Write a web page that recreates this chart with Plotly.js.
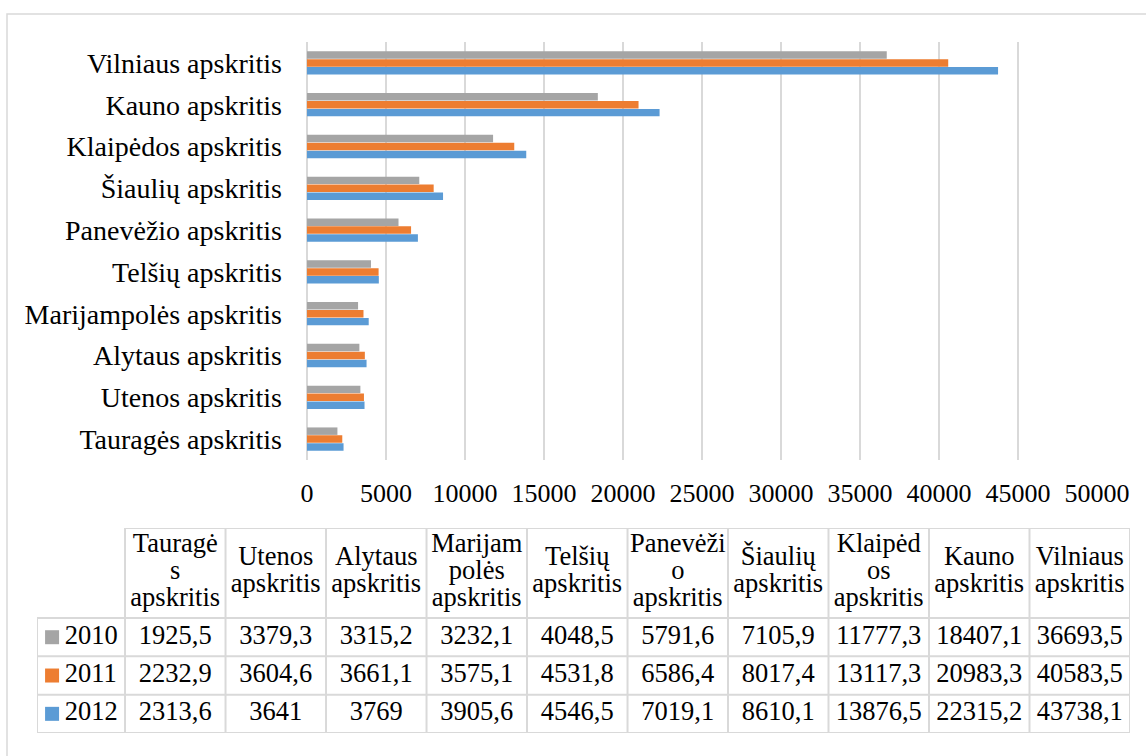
<!DOCTYPE html>
<html>
<head>
<meta charset="utf-8">
<script src="https://cdn.plot.ly/plotly-3.0.1.min.js"></script>
<style>
  html, body { margin: 0; padding: 0; background: #ffffff; }
  #chart { width: 1146px; height: 756px; }
</style>
</head>
<body>
<div id="chart"></div>
<script>
// Regions, in data-table order (bottom bar group first)
const regions = [
  "Tauragės apskritis", "Utenos apskritis", "Alytaus apskritis",
  "Marijampolės apskritis", "Telšių apskritis", "Panevėžio apskritis",
  "Šiaulių apskritis", "Klaipėdos apskritis", "Kauno apskritis",
  "Vilniaus apskritis"
];

// Column headings of the data table, as they wrap in their cells
const headerLines = [
  ["Tauragė", "s", "apskritis"],
  ["Utenos", "apskritis"],
  ["Alytaus", "apskritis"],
  ["Marijam", "polės", "apskritis"],
  ["Telšių", "apskritis"],
  ["Panevėži", "o", "apskritis"],
  ["Šiaulių", "apskritis"],
  ["Klaipėd", "os", "apskritis"],
  ["Kauno", "apskritis"],
  ["Vilniaus", "apskritis"]
];

const years = ["2010", "2011", "2012"];
const values2010 = [1925.5, 3379.3, 3315.2, 3232.1, 4048.5, 5791.6, 7105.9, 11777.3, 18407.1, 36693.5];
const values2011 = [2232.9, 3604.6, 3661.1, 3575.1, 4531.8, 6586.4, 8017.4, 13117.3, 20983.3, 40583.5];
const values2012 = [2313.6, 3641, 3769, 3905.6, 4546.5, 7019.1, 8610.1, 13876.5, 22315.2, 43738.1];
const xTickValues = [0, 5000, 10000, 15000, 20000, 25000, 30000, 35000, 40000, 45000, 50000];

const colors = { "2010": "#a5a5a5", "2011": "#ed7d31", "2012": "#5b9bd5" };
const seriesByYear = { "2010": values2010, "2011": values2011, "2012": values2012 };

const FONT = "Liberation Serif, Times New Roman, serif";
const FONT_SIZE = 26;
const CATEGORY_FONT_SIZE = 28;
const TABLE_FONT_SIZE = 26.5;
const GRID = "#d9d9d9";
const W = 1146, H = 756;

// Lithuanian number style: decimal comma
const fmt = v => String(v).replace(".", ",");

const traces = [];

// Bars: 2012 first so that 2010 sits on top inside each group
["2012", "2011", "2010"].forEach(yr => {
  traces.push({
    type: "bar",
    orientation: "h",
    name: yr,
    y: regions,
    x: seriesByYear[yr],
    marker: { color: colors[yr], line: { width: 0 } },
    xaxis: "x",
    yaxis: "y",
    hovertemplate: "%{y}<br>" + yr + ": %{x}<extra></extra>"
  });
});

// ---- Data table under the chart (drawn on its own hidden axis pair) ----
// x2 units: one unit per data column; the key column is narrower.
const keyColWidth = 0.876;
// y2 units: one unit per data row; header is taller.
const headerHeight = 2.35;
const headerCenter = 1.2;
const headerLineStep = 0.705;

// Header text, one point per wrapped line
const hx = [], hy = [], htext = [];
headerLines.forEach((lines, j) => {
  const n = lines.length;
  lines.forEach((line, k) => {
    hx.push(j + 0.5);
    hy.push(headerCenter + ((n - 1) / 2 - k) * headerLineStep);
    htext.push(line);
  });
});
traces.push({
  type: "scatter", mode: "text", x: hx, y: hy, text: htext,
  textposition: "middle center",
  textfont: { family: FONT, size: TABLE_FONT_SIZE, color: "#000" },
  xaxis: "x2", yaxis: "y2", hoverinfo: "skip", cliponaxis: false, showlegend: false
});

// Value cells
const vx = [], vy = [], vtext = [];
years.forEach((yr, r) => {
  seriesByYear[yr].forEach((v, j) => {
    vx.push(j + 0.5);
    vy.push(-(r + 0.5));
    vtext.push(fmt(v));
  });
});
traces.push({
  type: "scatter", mode: "text", x: vx, y: vy, text: vtext,
  textposition: "middle center",
  textfont: { family: FONT, size: TABLE_FONT_SIZE, color: "#000" },
  xaxis: "x2", yaxis: "y2", hoverinfo: "skip", cliponaxis: false, showlegend: false
});

// Legend keys and year labels in the first column
traces.push({
  type: "scatter", mode: "markers",
  x: years.map(() => -0.726), y: years.map((_, r) => -(r + 0.5)),
  marker: { symbol: "square", size: 14, color: years.map(y => colors[y]), line: { width: 0 } },
  xaxis: "x2", yaxis: "y2", hoverinfo: "skip", cliponaxis: false, showlegend: false
});
traces.push({
  type: "scatter", mode: "text",
  x: years.map(() => -0.60), y: years.map((_, r) => -(r + 0.5)),
  text: years, textposition: "middle right",
  textfont: { family: FONT, size: TABLE_FONT_SIZE, color: "#000" },
  xaxis: "x2", yaxis: "y2", hoverinfo: "skip", cliponaxis: false, showlegend: false
});

// Table borders
const shapes = [];
const line = { color: GRID, width: 2 };
// top edge of the heading row (no border over the key column)
shapes.push({ type: "line", xref: "x2", yref: "y2", x0: 0, x1: regions.length, y0: headerHeight, y1: headerHeight, line });
// horizontal rules under the heading and under each data row
for (let r = 0; r <= years.length; r++) {
  shapes.push({ type: "line", xref: "x2", yref: "y2", x0: -keyColWidth, x1: regions.length, y0: -r, y1: -r, line });
}
// left edge of the key column
shapes.push({ type: "line", xref: "x2", yref: "y2", x0: -keyColWidth, x1: -keyColWidth, y0: 0, y1: -years.length, line });
// column separators
for (let j = 0; j <= regions.length; j++) {
  shapes.push({ type: "line", xref: "x2", yref: "y2", x0: j, x1: j, y0: headerHeight, y1: -years.length, line });
}
// chart frame
shapes.push({
  type: "rect", xref: "paper", yref: "paper",
  x0: 7 / W, x1: 1.02, y0: -0.02, y1: 1 - 14 / H,
  line: { color: GRID, width: 1.5 }, fillcolor: "rgba(0,0,0,0)", layer: "below"
});

const layout = {
  width: W, height: H,
  margin: { l: 0, r: 0, t: 0, b: 0, pad: 0 },
  paper_bgcolor: "#ffffff",
  plot_bgcolor: "rgba(0,0,0,0)",
  showlegend: false,
  barmode: "group",
  bargap: 0.43,
  bargroupgap: 0.06,
  font: { family: FONT, size: FONT_SIZE, color: "#000" },
  xaxis: {
    domain: [307 / W, 1097 / W],
    range: [0, 50000],
    tickvals: xTickValues,
    ticktext: xTickValues.map(String),
    showgrid: true, gridcolor: GRID, gridwidth: 2,
    zeroline: true, zerolinecolor: GRID, zerolinewidth: 2,
    showline: false, ticks: "",
    ticklabelstandoff: 15,
    tickfont: { family: FONT, size: FONT_SIZE, color: "#000" },
    automargin: false, fixedrange: true, anchor: "y"
  },
  yaxis: {
    domain: [1 - 460 / H, 1 - 42 / H],
    type: "category",
    showgrid: false, zeroline: false, showline: false, ticks: "",
    ticklabelstandoff: 24,
    tickfont: { family: FONT, size: CATEGORY_FONT_SIZE, color: "#000" },
    automargin: false, fixedrange: true, anchor: "x"
  },
  xaxis2: {
    domain: [37 / W, 1130 / W],
    range: [-keyColWidth, regions.length],
    visible: false, fixedrange: true, anchor: "y2"
  },
  yaxis2: {
    domain: [1 - 733 / H, 1 - 528 / H],
    range: [-years.length, headerHeight],
    visible: false, fixedrange: true, anchor: "x2"
  },
  shapes
};

Plotly.newPlot("chart", traces, layout, { displayModeBar: false, staticPlot: true });
</script>
</body>
</html>
